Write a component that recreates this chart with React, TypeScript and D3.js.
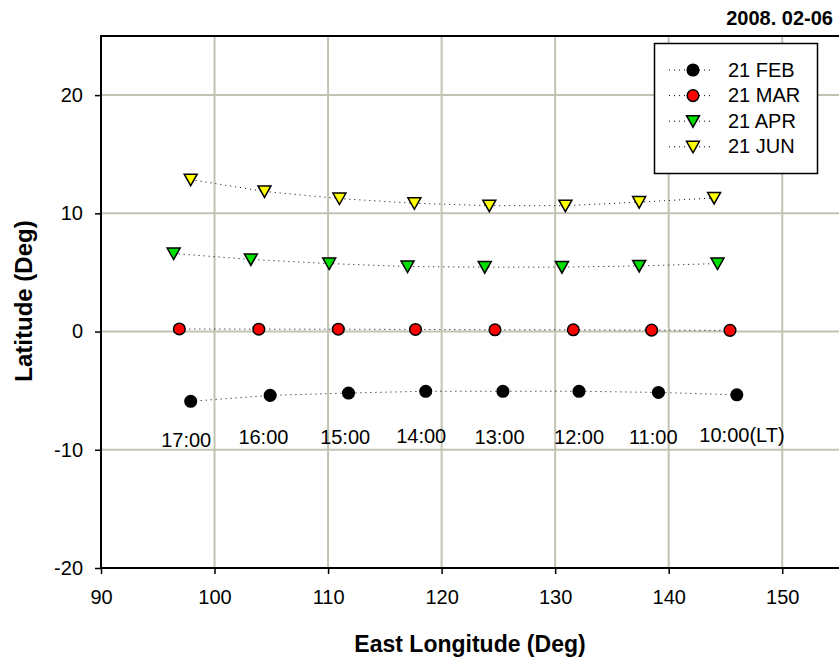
import { useEffect, useRef } from "react"
import * as d3 from "d3"

// series labels and colours
const SERIES = ["21 FEB", "21 MAR", "21 APR", "21 JUN"]
const FILLS = ["#000000", "#ff0000", "#00e000", "#ffff00"]
const SHAPES = ["circle", "circle", "triangle", "triangle"]

// longitude / latitude of each hourly position (17:00 .. 10:00 LT)
const febLon = [97.9, 104.9, 111.8, 118.6, 125.4, 132.1, 139.1, 146.0]
const febLat = [-5.9, -5.4, -5.2, -5.05, -5.05, -5.05, -5.15, -5.35]
const marLon = [96.9, 103.9, 110.9, 117.7, 124.7, 131.6, 138.5, 145.4]
const marLat = [0.22, 0.2, 0.2, 0.18, 0.15, 0.15, 0.12, 0.1]
const aprLon = [96.4, 103.2, 110.1, 117.0, 123.8, 130.6, 137.4, 144.3]
const aprLat = [6.6, 6.1, 5.75, 5.5, 5.45, 5.45, 5.55, 5.75]
const junLon = [97.9, 104.4, 111.0, 117.6, 124.2, 130.9, 137.4, 144.0]
const junLat = [12.85, 11.85, 11.25, 10.85, 10.65, 10.65, 10.95, 11.3]

// local time annotations under the FEB track
const timeLabels = ["17:00", "16:00", "15:00", "14:00", "13:00", "12:00", "11:00", "10:00(LT)"]
const timeLon = [95.3, 102.1, 109.3, 116.0, 122.9, 129.9, 136.5, 142.7]
const timeLat = [-9.75, -9.55, -9.5, -9.4, -9.5, -9.5, -9.5, -9.3]

const xTicks = [90, 100, 110, 120, 130, 140, 150]
const yTicks = [-20, -10, 0, 10, 20]

const FONT = "'Liberation Sans', Arial, sans-serif"
const GRID = "#c3c3b4"

export default function App() {
    const svgRef = useRef<SVGSVGElement>(null)

    useEffect(() => {
        document.body.style.margin = "0"
        const width = 839
        const height = 658
        const left = 101, right = 839, top = 36, bottom = 568

        const svg = d3.select(svgRef.current)
            .attr("width", width)
            .attr("height", height)
        svg.selectAll("*").remove()

        const x = d3.scaleLinear().domain([90, 155]).range([left, right])
        const y = d3.scaleLinear().domain([-20, 25]).range([bottom, top])

        // grid
        svg.append("g").selectAll("line")
            .data(xTicks.filter(d => d > 90))
            .join("line")
            .attr("x1", d => x(d)).attr("x2", d => x(d))
            .attr("y1", top).attr("y2", bottom)
            .attr("stroke", GRID).attr("stroke-width", 2)
        svg.append("g").selectAll("line")
            .data(yTicks.filter(d => d > -20))
            .join("line")
            .attr("x1", left).attr("x2", right)
            .attr("y1", d => y(d)).attr("y2", d => y(d))
            .attr("stroke", GRID).attr("stroke-width", 2)

        // axes
        const xAxis = svg.append("g")
            .attr("transform", `translate(0,${bottom})`)
            .call(d3.axisBottom(x).tickValues(xTicks).tickSize(6).tickPadding(16).tickFormat(d3.format("d")))
        const yAxis = svg.append("g")
            .attr("transform", `translate(${left},0)`)
            .call(d3.axisLeft(y).tickValues(yTicks).tickSize(6).tickPadding(12).tickFormat(d3.format("d")))
        for (const ax of [xAxis, yAxis]) {
            ax.select(".domain").remove()
            ax.selectAll(".tick line").attr("stroke", "#000").attr("stroke-width", 1.5)
            ax.selectAll(".tick text")
                .attr("fill", "#000")
                .attr("font-family", FONT)
                .attr("font-size", 20)
        }
        xAxis.selectAll(".tick text").attr("dy", "0.71em")
        yAxis.selectAll(".tick text").text((d: any) => d < 0 ? "-" + Math.abs(d) : String(d))

        // frame: left, bottom, top
        svg.append("path")
            .attr("d", `M${right},${top}H${left}V${bottom}H${right}`)
            .attr("fill", "none").attr("stroke", "#000").attr("stroke-width", 2)

        const lons = [febLon, marLon, aprLon, junLon]
        const lats = [febLat, marLat, aprLat, junLat]
        const line = d3.line<[number, number]>().x(d => x(d[0])).y(d => y(d[1]))

        function drawSymbol(g: any, shape: string, fill: string, cx: number, cy: number) {
            if (shape === "circle") {
                g.append("circle")
                    .attr("cx", cx).attr("cy", cy).attr("r", 5.8)
                    .attr("fill", fill).attr("stroke", "#000").attr("stroke-width", 1.5)
            } else {
                g.append("path")
                    .attr("d", `M${cx - 6.5},${cy - 5.5}L${cx + 6.5},${cy - 5.5}L${cx},${cy + 6}Z`)
                    .attr("fill", fill).attr("stroke", "#000").attr("stroke-width", 1.5)
                    .attr("stroke-linejoin", "miter")
            }
        }

        SERIES.forEach((name, i) => {
            const pts = lons[i].map((lon, j) => [lon, lats[i][j]] as [number, number])
            svg.append("path")
                .datum(pts)
                .attr("d", line)
                .attr("fill", "none")
                .attr("stroke", "#000")
                .attr("stroke-width", 1)
                .attr("stroke-dasharray", "1,4")
            const g = svg.append("g")
            pts.forEach(p => drawSymbol(g, SHAPES[i], FILLS[i], x(p[0]), y(p[1])))
        })

        // time labels
        svg.append("g").selectAll("text")
            .data(timeLabels)
            .join("text")
            .attr("x", (d, i) => x(timeLon[i]))
            .attr("y", (d, i) => y(timeLat[i]))
            .attr("font-family", FONT)
            .attr("font-size", 20)
            .text(d => d)

        // legend
        const lg = svg.append("g")
        lg.append("rect")
            .attr("x", 654.5).attr("y", 43.5).attr("width", 163).attr("height", 130)
            .attr("fill", "#fff").attr("stroke", "#000").attr("stroke-width", 1.5)
        SERIES.forEach((name, i) => {
            const ly = 70 + i * 25.6
            lg.append("line")
                .attr("x1", 669).attr("x2", 714).attr("y1", ly).attr("y2", ly)
                .attr("stroke", "#000").attr("stroke-width", 1).attr("stroke-dasharray", "1,4")
            drawSymbol(lg, SHAPES[i], FILLS[i], 693, ly)
            lg.append("text")
                .attr("x", 728).attr("y", ly + 6.5)
                .attr("font-family", FONT).attr("font-size", 20)
                .text(name)
        })

        // titles
        svg.append("text")
            .attr("x", 833).attr("y", 25)
            .attr("text-anchor", "end")
            .attr("font-family", FONT).attr("font-weight", "bold").attr("font-size", 20)
            .text("2008. 02-06")
        svg.append("text")
            .attr("x", 470).attr("y", 652)
            .attr("text-anchor", "middle")
            .attr("font-family", FONT).attr("font-weight", "bold").attr("font-size", 23)
            .text("East Longitude (Deg)")
        svg.append("text")
            .attr("transform", `translate(32,301) rotate(-90)`)
            .attr("text-anchor", "middle")
            .attr("font-family", FONT).attr("font-weight", "bold").attr("font-size", 24)
            .text("Latitude (Deg)")
    }, [])

    return (
        <svg ref={svgRef} style={{ display: "block" }} />
    )
}
